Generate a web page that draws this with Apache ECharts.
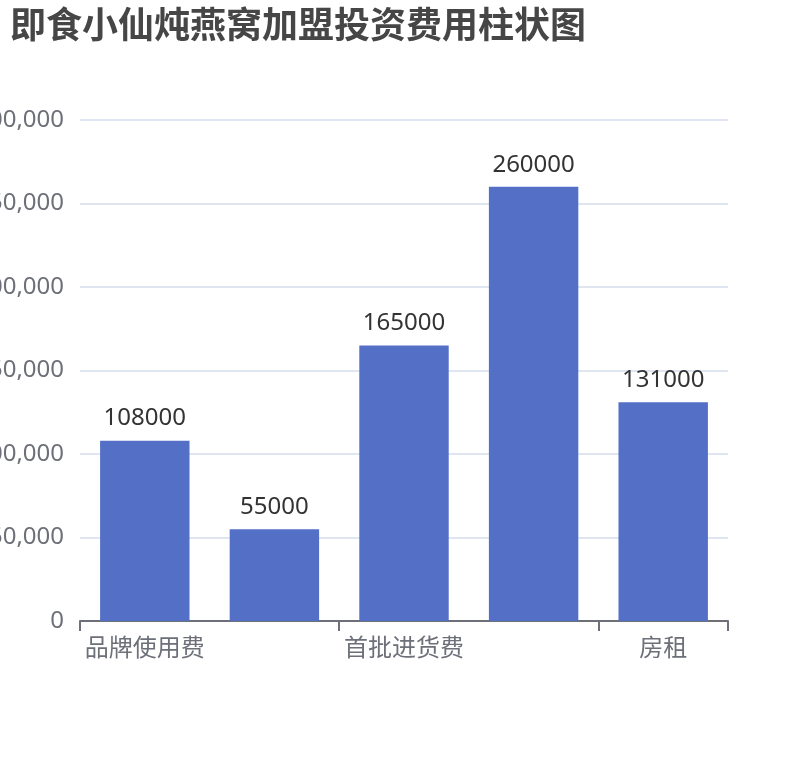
<!DOCTYPE html>
<html>
<head>
<meta charset="utf-8">
<script src="https://cdn.jsdelivr.net/npm/echarts@6/dist/echarts.min.js"></script>
<style>
html,body{margin:0;padding:0;background:#fff;}
#main{width:810px;height:760px;}
</style>
</head>
<body>
<div id="main"></div>
<script>
const titleText = '即食小仙炖燕窝加盟投资费用柱状图';
const categories = ['品牌使用费', '保证金', '首批进货费', '装修费', '房租'];
const values = [108000, 55000, 165000, 260000, 131000];
const yMax = 300000;
const yInterval = 50000;

const FONT = '"Noto Sans", "Noto Sans CJK SC", sans-serif';
const chart = echarts.init(document.getElementById('main'));
chart.setOption({
  animation: false,
  textStyle: { fontFamily: FONT },
  title: {
    text: titleText,
    left: 5,
    top: 5,
    textStyle: { fontSize: 36, fontWeight: 'bold', color: '#464646', fontFamily: FONT }
  },
  grid: { left: 80, right: 82, top: 120, bottom: 139, containLabel: false, outerBoundsMode: 'none' },
  xAxis: {
    type: 'category',
    data: categories,
    axisLine: { lineStyle: { color: '#6E7079', width: 2 } },
    axisTick: { show: true, length: 10, interval: 1, lineStyle: { width: 2, color: '#6E7079' } },
    axisLabel: { fontSize: 24, color: '#6E7079', margin: 16, interval: 1, fontFamily: FONT }
  },
  yAxis: {
    type: 'value',
    min: 0,
    max: yMax,
    interval: yInterval,
    axisLabel: { fontSize: 24, color: '#6E7079', margin: 16, fontFamily: FONT },
    splitLine: { lineStyle: { color: '#E0E6F1', width: 2 } }
  },
  series: [{
    type: 'bar',
    data: values,
    barWidth: '69%',
    itemStyle: { color: '#5470c6' },
    label: {
      show: true,
      position: 'top',
      distance: 10,
      fontSize: 24,
      color: '#333',
      fontFamily: FONT
    }
  }]
});
</script>
</body>
</html>
